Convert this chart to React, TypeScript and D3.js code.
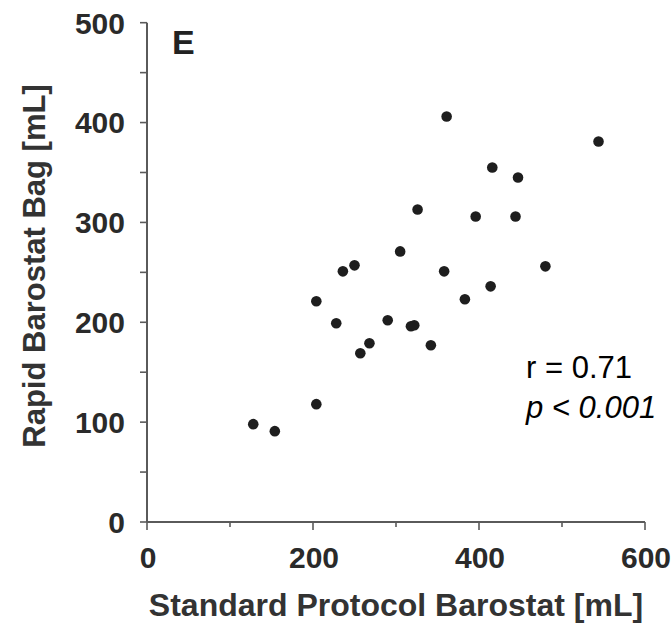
import React from "react";
import * as d3 from "d3";

const standardProtocol = [361, 544, 416, 447, 326, 396, 444, 305, 250, 236, 358, 480, 414, 383, 204, 228, 290, 318, 322, 268, 257, 342, 204, 128, 154];
const rapidBag = [406, 381, 355, 345, 313, 306, 306, 271, 257, 251, 251, 256, 236, 223, 221, 199, 202, 196, 197, 179, 169, 177, 118, 98, 91];
const xTickLabels = [0, 200, 400, 600];
const yTickLabels = [0, 100, 200, 300, 400, 500];
const xMinorTicks = [100, 300, 500];
const yAllTicks = [0, 50, 100, 150, 200, 250, 300, 350, 400, 450, 500];
const panelLabel = "E";
const xTitle = "Standard Protocol Barostat [mL]";
const yTitle = "Rapid Barostat Bag [mL]";
const statR = "r = 0.71";
const statP = "p < 0.001";

export default function App() {
  const W = 672, H = 625;
  const x = d3.scaleLinear().domain([0, 600]).range([147, 645]);
  const y = d3.scaleLinear().domain([0, 500]).range([522, 22.7]);
  const axisColor = "#5a5a5a";
  const font = "'Liberation Sans', Arial, Helvetica, sans-serif";
  const pts = standardProtocol.map((v, i) => ({ x: v, y: rapidBag[i] }));
  return (
    <svg width={W} height={H} style={{ position: "absolute", left: 0, top: 0, background: "#fff" }} fontFamily={font}>
      <line x1={x(0)} x2={x(600)} y1={y(0)} y2={y(0)} stroke={axisColor} strokeWidth={2} />
      <line x1={x(0)} x2={x(0)} y1={y(0)} y2={y(500)} stroke={axisColor} strokeWidth={2} />
      {yAllTicks.map((t) => (
        <line key={"yt" + t} x1={x(0) - 7} x2={x(0)} y1={y(t)} y2={y(t)} stroke={axisColor} strokeWidth={1.6} />
      ))}
      {xTickLabels.map((t) => (
        <line key={"xt" + t} x1={x(t)} x2={x(t)} y1={y(0)} y2={y(0) + 8} stroke={axisColor} strokeWidth={1.6} />
      ))}
      {xMinorTicks.map((t) => (
        <line key={"xm" + t} x1={x(t)} x2={x(t)} y1={y(0)} y2={y(0) + 5} stroke={axisColor} strokeWidth={1.6} />
      ))}
      {yTickLabels.map((t) => (
        <text key={"yl" + t} x={125} y={y(t)} dy="0.36em" textAnchor="end" fontSize={30} fontWeight="bold" fill="#2a2a2a">
          {t}
        </text>
      ))}
      {xTickLabels.map((t) => (
        <text key={"xl" + t} x={x(t) + 1} y={568} textAnchor="middle" fontSize={30} fontWeight="bold" fill="#2a2a2a">
          {t}
        </text>
      ))}
      <text x={(x(0) + x(600)) / 2} y={616} textAnchor="middle" fontSize={32} fontWeight="bold" fill="#333">
        {xTitle}
      </text>
      <text transform={`translate(45, 266) rotate(-90)`} textAnchor="middle" fontSize={31} fontWeight="bold" fill="#333">
        {yTitle}
      </text>
      <text x={172} y={54} fontSize={34} fontWeight="bold" fill="#222">
        {panelLabel}
      </text>
      {pts.map((p, i) => (
        <circle key={i} cx={x(p.x)} cy={y(p.y)} r={5.3} fill="#1e1e1e" />
      ))}
      <text x={526} y={378} fontSize={31} fill="#000">
        {statR}
      </text>
      <text x={526} y={418} fontSize={31} fontStyle="italic" fill="#000">
        {statP}
      </text>
    </svg>
  );
}
